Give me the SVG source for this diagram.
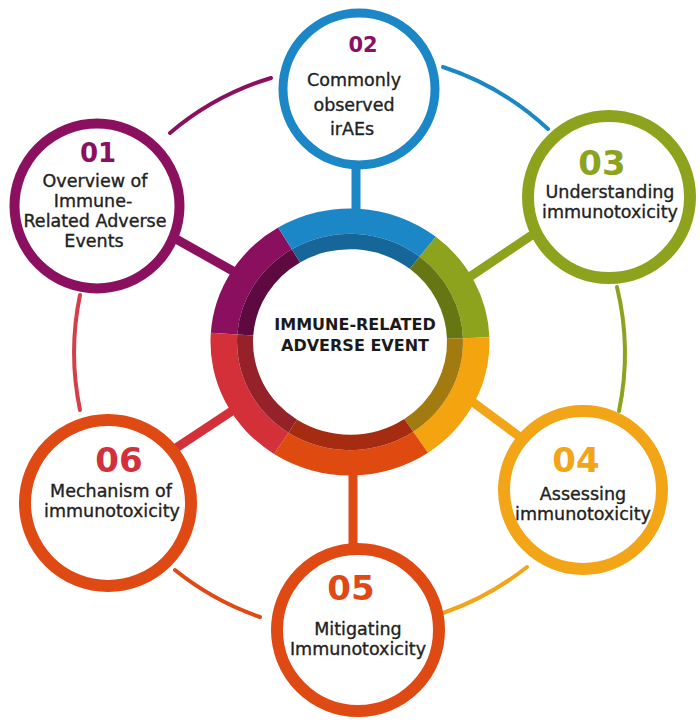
<svg xmlns="http://www.w3.org/2000/svg" width="700" height="723" viewBox="0 0 700 723">
<style>
.lbl{font-family:"DejaVu Sans","Liberation Sans",sans-serif;font-size:17.5px;fill:#222;stroke:#222;stroke-width:0.35px;text-anchor:middle}
.num{font-family:"DejaVu Sans","Liberation Sans",sans-serif;font-weight:bold;text-anchor:middle}
.ctr{font-family:"DejaVu Sans","Liberation Sans",sans-serif;font-weight:bold;font-size:16px;fill:#1a1a1a;text-anchor:middle}
.arc{fill:none;stroke-width:4;stroke-linecap:round}
.spoke{stroke-width:9;stroke-linecap:butt}
.node{fill:#fff}
</style>
<rect width="700" height="723" fill="#fff"/>
<g id="connectors">
  <path class="arc" stroke="#8B1060" d="M170,133 A283,283 0 0 1 271,78"/>
  <path class="arc" stroke="#1C87C6" d="M443,67 A283,283 0 0 1 548,129"/>
  <path class="arc" stroke="#8DA31D" d="M617,287 A283,283 0 0 1 619,411"/>
  <path class="arc" stroke="#F2A516" d="M527,567 A283,283 0 0 1 443,613"/>
  <path class="arc" stroke="#DF4A14" d="M260,617 A283,283 0 0 1 175,570"/>
  <path class="arc" stroke="#D3404A" d="M80,410 A283,283 0 0 1 80,295"/>
  <line class="spoke" stroke="#8B1060" x1="176" y1="239" x2="240" y2="275"/>
  <line class="spoke" stroke="#1C87C6" x1="356" y1="165" x2="356" y2="215"/>
  <line class="spoke" stroke="#8DA31D" x1="532" y1="235" x2="468" y2="278"/>
  <line class="spoke" stroke="#F2A516" x1="466" y1="397" x2="520" y2="437"/>
  <line class="spoke" stroke="#DF4A14" x1="353" y1="470" x2="353" y2="550"/>
  <line class="spoke" stroke="#D3303A" x1="176" y1="448" x2="238" y2="407"/>
</g>
<g id="center">
  <g transform="translate(350,342) scale(1,0.957)">
    <path fill="#8A0F5E" d="M-139.16,-9.73 A139.5,139.5 0 0 1 -71.85,-119.58 L-58.20,-96.86 A113,113 0 0 0 -112.72,-7.88 Z"/>
    <path fill="#5E0A40" d="M-112.72,-7.88 A113,113 0 0 1 -58.20,-96.86 L-49.96,-83.15 A97,97 0 0 0 -96.76,-6.77 Z"/>
    <path fill="#1C87C6" d="M-71.85,-119.58 A139.5,139.5 0 0 1 85.88,-109.93 L69.57,-89.05 A113,113 0 0 0 -58.20,-96.86 Z"/>
    <path fill="#166699" d="M-58.20,-96.86 A113,113 0 0 1 69.57,-89.05 L59.72,-76.44 A97,97 0 0 0 -49.96,-83.15 Z"/>
    <path fill="#8DA31D" d="M85.88,-109.93 A139.5,139.5 0 0 1 139.41,-4.87 L112.93,-3.94 A113,113 0 0 0 69.57,-89.05 Z"/>
    <path fill="#657612" d="M69.57,-89.05 A113,113 0 0 1 112.93,-3.94 L96.94,-3.39 A97,97 0 0 0 59.72,-76.44 Z"/>
    <path fill="#F3A40E" d="M139.41,-4.87 A139.5,139.5 0 0 1 78.01,115.65 L63.19,93.68 A113,113 0 0 0 112.93,-3.94 Z"/>
    <path fill="#A27A10" d="M112.93,-3.94 A113,113 0 0 1 63.19,93.68 L54.24,80.42 A97,97 0 0 0 96.94,-3.39 Z"/>
    <path fill="#DF4A10" d="M78.01,115.65 A139.5,139.5 0 0 1 -75.98,117.00 L-61.54,94.77 A113,113 0 0 0 63.19,93.68 Z"/>
    <path fill="#A52C10" d="M63.19,93.68 A113,113 0 0 1 -61.54,94.77 L-52.83,81.35 A97,97 0 0 0 54.24,80.42 Z"/>
    <path fill="#D3303A" d="M-75.98,117.00 A139.5,139.5 0 0 1 -139.16,-9.73 L-112.72,-7.88 A113,113 0 0 0 -61.54,94.77 Z"/>
    <path fill="#952228" d="M-61.54,94.77 A113,113 0 0 1 -112.72,-7.88 L-96.76,-6.77 A97,97 0 0 0 -52.83,81.35 Z"/>
  </g>
  <text class="ctr" x="355" y="330">IMMUNE-RELATED</text>
  <text class="ctr" x="355" y="351">ADVERSE EVENT</text>
</g>
<g id="node01">
  <circle class="node" cx="97" cy="206" r="82.5" stroke="#8B1060" stroke-width="10"/>
  <text class="num" x="98" y="162" font-size="26" fill="#8B1060">01</text>
  <text class="lbl" x="95" y="187" font-size="17">Overview of</text>
  <text class="lbl" x="93" y="207" font-size="17">Immune-</text>
  <text class="lbl" x="95" y="227" font-size="17">Related Adverse</text>
  <text class="lbl" x="94" y="247" font-size="17">Events</text>
</g>
<g id="node02">
  <circle class="node" cx="359" cy="89" r="76" stroke="#1C87C6" stroke-width="9"/>
  <text class="num" x="363" y="52" font-size="21" fill="#8B1060">02</text>
  <text class="lbl" x="354" y="86" font-size="22">Commonly</text>
  <text class="lbl" x="354" y="111" font-size="22">observed</text>
  <text class="lbl" x="352" y="135" font-size="22">irAEs</text>
</g>
<g id="node03">
  <circle class="node" cx="609" cy="197" r="81" stroke="#8DA31D" stroke-width="12"/>
  <text class="num" x="602" y="175" font-size="34" fill="#8DA31D">03</text>
  <text class="lbl" x="610" y="198">Understanding</text>
  <text class="lbl" x="610" y="218">immunotoxicity</text>
</g>
<g id="node04">
  <circle class="node" cx="583" cy="490" r="79" stroke="#F2A516" stroke-width="12"/>
  <text class="num" x="576" y="472" font-size="34" fill="#F2A516">04</text>
  <text class="lbl" x="583" y="500">Assessing</text>
  <text class="lbl" x="583" y="520">immunotoxicity</text>
</g>
<g id="node05">
  <circle class="node" cx="358" cy="630" r="81" stroke="#DF4A14" stroke-width="12"/>
  <text class="num" x="351" y="600" font-size="34" fill="#DF4A14">05</text>
  <text class="lbl" x="358" y="635">Mitigating</text>
  <text class="lbl" x="358" y="655">Immunotoxicity</text>
</g>
<g id="node06">
  <circle class="node" cx="108" cy="503" r="83" stroke="#DF4A14" stroke-width="12"/>
  <text class="num" x="119" y="472" font-size="34" fill="#D3303A">06</text>
  <text class="lbl" x="111" y="497">Mechanism of</text>
  <text class="lbl" x="112" y="517">immunotoxicity</text>
</g>
</svg>
